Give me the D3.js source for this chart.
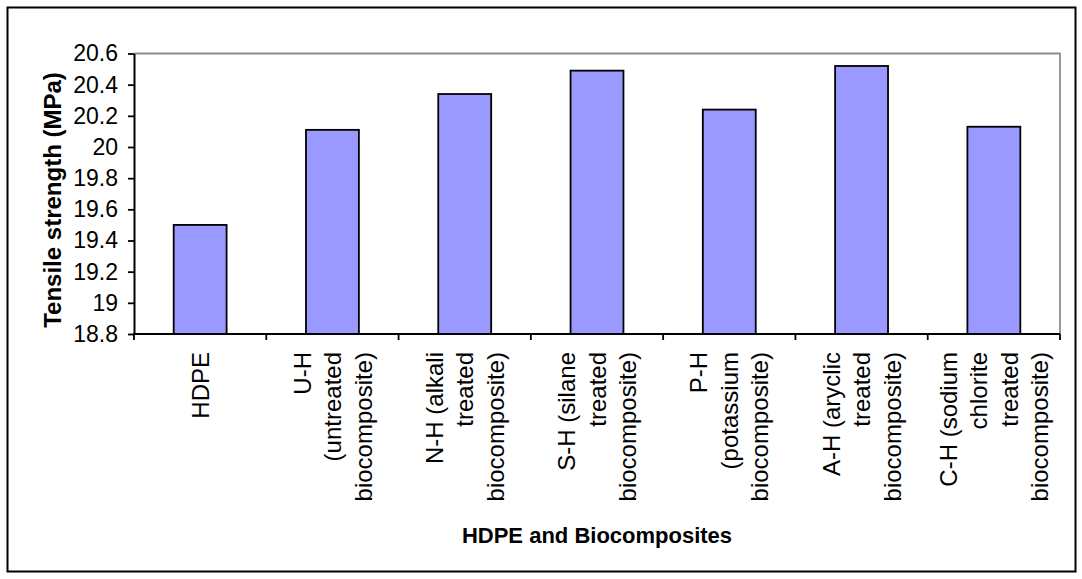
<!DOCTYPE html>
<html>
<head>
<meta charset="utf-8">
<script src="https://cdn.jsdelivr.net/npm/d3@7/dist/d3.min.js"></script>
<style>
  html, body { margin: 0; padding: 0; background: #fff; }
  svg { display: block; }
  text { font-family: "Liberation Sans", Arial, sans-serif; fill: #000; }
</style>
</head>
<body>
<svg id="chart" width="1082" height="579"></svg>
<script>
// ---- data ----
const categories = [
  "HDPE",
  "U-H\n(untreated\nbiocomposite)",
  "N-H (alkali\ntreated\nbiocomposite)",
  "S-H (silane\ntreated\nbiocomposite)",
  "P-H\n(potassium\nbiocomposite)",
  "A-H (aryclic\ntreated\nbiocomposite)",
  "C-H (sodium\nchlorite\ntreated\nbiocomposite)"
];
const tensileStrength = [19.50, 20.11, 20.34, 20.49, 20.24, 20.52, 20.13];
const yTicks = [18.8, 19, 19.2, 19.4, 19.6, 19.8, 20, 20.2, 20.4, 20.6];
const yTitle = "Tensile strength (MPa)";
const xTitle = "HDPE and Biocomposites";

// ---- layout ----
const svg = d3.select("#chart");
const plot = { left: 134, right: 1060, top: 53.5, bottom: 334 };

// outer frame
svg.append("rect")
  .attr("x", 7.5).attr("y", 7.5)
  .attr("width", 1068).attr("height", 564)
  .attr("fill", "#fff").attr("stroke", "#000").attr("stroke-width", 2);

const x = d3.scaleBand()
  .domain(categories)
  .range([plot.left, plot.right])
  .paddingInner(0.6)
  .paddingOuter(0.3);

const y = d3.scaleLinear()
  .domain([18.8, 20.6])
  .range([plot.bottom, plot.top]);

// plot area top/right gray border
svg.append("path")
  .attr("d", `M${plot.left},${plot.top}H${plot.right}V${plot.bottom}`)
  .attr("fill", "none").attr("stroke", "#8c8c8c").attr("stroke-width", 1.8);

// bars
svg.append("g").selectAll("rect")
  .data(categories)
  .join("rect")
  .attr("x", d => x(d))
  .attr("width", x.bandwidth())
  .attr("y", (d, i) => y(tensileStrength[i]))
  .attr("height", (d, i) => y(18.8) - y(tensileStrength[i]))
  .attr("fill", "#9999ff")
  .attr("stroke", "#000")
  .attr("stroke-width", 1.8);

// y axis
const yAxis = d3.axisLeft(y)
  .tickValues(yTicks)
  .tickFormat(d => d3.format("~g")(d))
  .tickSize(6)
  .tickPadding(10)
  .tickSizeOuter(0);
const gy = svg.append("g")
  .attr("transform", `translate(${plot.left},0)`)
  .call(yAxis);
gy.select(".domain").attr("stroke", "#000").attr("stroke-width", 2);
gy.selectAll(".tick line").attr("stroke", "#000").attr("stroke-width", 1.8);
gy.selectAll(".tick text")
  .attr("font-size", 23)
  .attr("font-family", "Liberation Sans, Arial, sans-serif")
  .attr("fill", "#000");

// x axis (ticks at band boundaries)
const step = x.step();
const boundaries = d3.range(categories.length + 1).map(i => plot.left + i * step);
svg.append("line")
  .attr("x1", plot.left - 1).attr("x2", plot.right)
  .attr("y1", plot.bottom).attr("y2", plot.bottom)
  .attr("stroke", "#000").attr("stroke-width", 2);
svg.append("g").selectAll("line")
  .data(boundaries)
  .join("line")
  .attr("x1", d => d).attr("x2", d => d)
  .attr("y1", plot.bottom).attr("y2", plot.bottom + 6)
  .attr("stroke", "#000").attr("stroke-width", 1.8);

// x category labels (rotated, multi-line)
const lineGap = 30.5;
const labelG = svg.append("g");
categories.forEach(cat => {
  const lines = cat.split("\n");
  const cx = x(cat) + x.bandwidth() / 2;
  const n = lines.length;
  lines.forEach((ln, j) => {
    const lx = cx + (j - (n - 1) / 2) * lineGap;
    labelG.append("text")
      .attr("transform", `translate(${lx},352) rotate(-90)`)
      .attr("text-anchor", "end")
      .attr("dy", "0.36em")
      .attr("font-size", 24)
      .text(ln);
  });
});

// y title
svg.append("text")
  .attr("transform", `translate(52,200) rotate(-90)`)
  .attr("text-anchor", "middle")
  .attr("dy", "0.36em")
  .attr("font-size", 24)
  .attr("font-weight", "bold")
  .text(yTitle);

// x title
svg.append("text")
  .attr("x", (plot.left + plot.right) / 2)
  .attr("y", 535)
  .attr("text-anchor", "middle")
  .attr("dy", "0.36em")
  .attr("font-size", 22)
  .attr("font-weight", "bold")
  .text(xTitle);
</script>
</body>
</html>
